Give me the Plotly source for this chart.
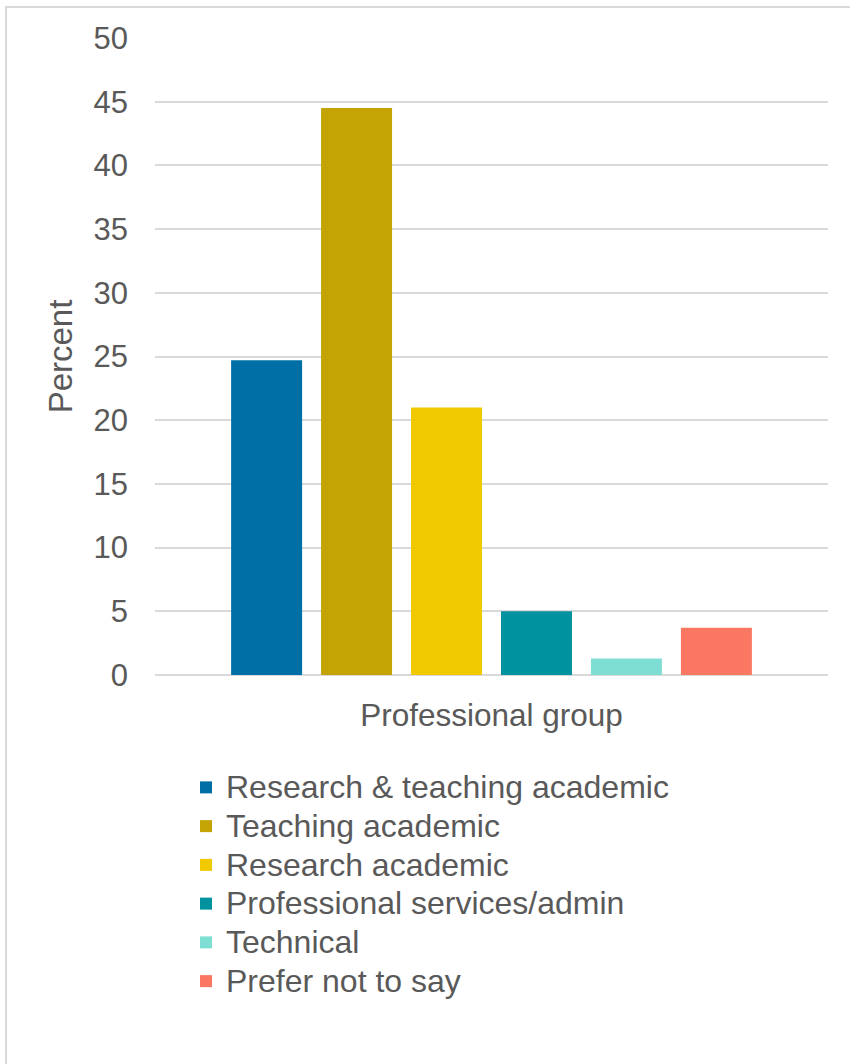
import plotly.graph_objects as go

category = ["Professional group"]
series_names = [
    "Research & teaching academic",
    "Teaching academic",
    "Research academic",
    "Professional services/admin",
    "Technical",
    "Prefer not to say",
]
series_values = [24.7, 44.5, 21.0, 5.0, 1.3, 3.7]
series_colors = ["#006FA5", "#C4A304", "#F1C900", "#00929F", "#7FDED4", "#FA7762"]
y_ticks = [0, 5, 10, 15, 20, 25, 30, 35, 40, 45, 50]

FONT = "Liberation Sans, Arial, sans-serif"
GRAY = "#595959"

W, H = 850, 1064
L, R, T, B = 155, 22, 38, 389
pw, ph = W - L - R, H - T - B

def px_x(x):
    return (x - L) / pw

def px_y(y):
    return (H - B - y) / ph

fig = go.Figure()
for name, val, col in zip(series_names, series_values, series_colors):
    fig.add_trace(go.Bar(
        x=category, y=[val],
        name='<span style="font-size:32px">' + name + '</span>',
        marker=dict(color=col, line=dict(width=0)),
    ))

fig.update_layout(
    width=W, height=H,
    margin=dict(l=L, r=R, t=T, b=B),
    paper_bgcolor="white", plot_bgcolor="white",
    barmode="group", bargap=0.198, bargroupgap=0.211,
    font=dict(family=FONT, size=31, color=GRAY),
    showlegend=True,
    legend=dict(
        x=px_x(186), y=px_y(763), xanchor="left", yanchor="top",
        orientation="v", font=dict(size=27.5, color=GRAY),
        bgcolor="rgba(0,0,0,0)", tracegroupgap=0,
    ),
    xaxis=dict(
        range=[-0.5, 0.5], showgrid=False, zeroline=False, showline=False,
        ticks="", ticklabelstandoff=18, tickfont=dict(size=31.5, color=GRAY),
    ),
    yaxis=dict(
        range=[0, 50], tickvals=y_ticks, showgrid=True, gridcolor="#D9D9D9", gridwidth=2,
        zeroline=True, zerolinecolor="#D9D9D9", zerolinewidth=2, showline=False,
        ticks="", ticklabelstandoff=26, tickfont=dict(size=31, color=GRAY),
        title=dict(text="Percent", font=dict(size=33, color=GRAY), standoff=10),
    ),
    shapes=[dict(
        type="rect", xref="paper", yref="paper",
        x0=px_x(6), x1=px_x(870), y0=px_y(1090), y1=px_y(7),
        line=dict(color="#D9D9D9", width=2), fillcolor="rgba(0,0,0,0)", layer="below",
    )],
)

fig.write_html("out.html")
